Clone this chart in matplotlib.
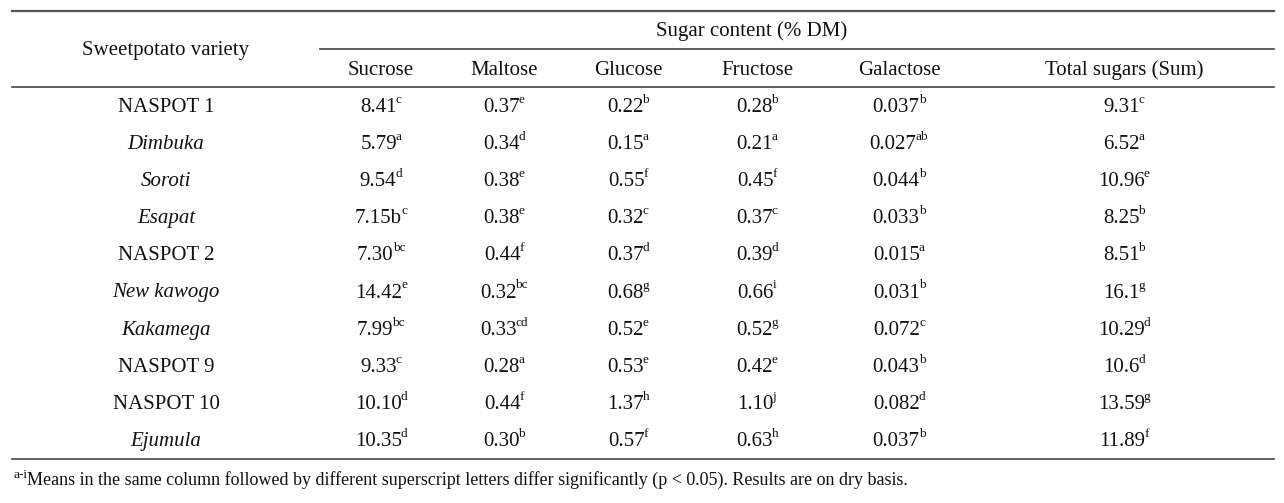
import matplotlib
matplotlib.use("Agg")
import matplotlib.pyplot as plt

plt.rcParams['font.family'] = ['Liberation Serif', 'DejaVu Serif']

# table content
varieties = ['NASPOT 1', 'Dimbuka', 'Soroti', 'Esapat', 'NASPOT 2',
             'New kawogo', 'Kakamega', 'NASPOT 9', 'NASPOT 10', 'Ejumula']
italic = [False, True, True, True, False, True, True, False, False, True]
columns = ['Sucrose', 'Maltose', 'Glucose', 'Fructose', 'Galactose', 'Total sugars (Sum)']

sucrose = ['8.41', '5.79', '9.54', '7.15b', '7.30', '14.42', '7.99', '9.33', '10.10', '10.35']
sucrose_sup = ['c', 'a', 'd', 'c', 'bc', 'e', 'bc', 'c', 'd', 'd']
maltose = ['0.37', '0.34', '0.38', '0.38', '0.44', '0.32', '0.33', '0.28', '0.44', '0.30']
maltose_sup = ['e', 'd', 'e', 'e', 'f', 'bc', 'cd', 'a', 'f', 'b']
glucose = ['0.22', '0.15', '0.55', '0.32', '0.37', '0.68', '0.52', '0.53', '1.37', '0.57']
glucose_sup = ['b', 'a', 'f', 'c', 'd', 'g', 'e', 'e', 'h', 'f']
fructose = ['0.28', '0.21', '0.45', '0.37', '0.39', '0.66', '0.52', '0.42', '1.10', '0.63']
fructose_sup = ['b', 'a', 'f', 'c', 'd', 'i', 'g', 'e', 'j', 'h']
galactose = ['0.037', '0.027', '0.044', '0.033', '0.015', '0.031', '0.072', '0.043', '0.082', '0.037']
galactose_sup = ['b', 'ab', 'b', 'b', 'a', 'b', 'c', 'b', 'd', 'b']
total = ['9.31', '6.52', '10.96', '8.25', '8.51', '16.1', '10.29', '10.6', '13.59', '11.89']
total_sup = ['c', 'a', 'e', 'b', 'b', 'g', 'd', 'd', 'g', 'f']

values = [sucrose, maltose, glucose, fructose, galactose, total]
sups = [sucrose_sup, maltose_sup, glucose_sup, fructose_sup, galactose_sup, total_sup]

footnote_sup = 'a-i'
footnote = ('Means in the same column followed by different superscript letters '
            'differ significantly (p < 0.05). Results are on dry basis.')

# layout (pixel coordinates)
W, H = 1284, 503
col_x = [381, 504, 628, 757, 899, 1124]
var_x = 166
row_y0, row_dy = 106, 37.1
fs = 15
sfs = 9.5
ink = '#111111'
rule = '#555555'

fig = plt.figure(figsize=(W / 100, H / 100), dpi=100)
ax = fig.add_axes([0, 0, 1, 1])
ax.set_xlim(0, W)
ax.set_ylim(H, 0)
ax.axis('off')
renderer = fig.canvas.get_renderer()


def width_of(s, size):
    t = ax.text(0, 0, s, fontsize=size)
    w = t.get_window_extent(renderer).width
    t.remove()
    return w


def sup_text(x, y, base, sup):
    wb = width_of(base, fs) - 1
    ws = width_of(sup, sfs)
    left = x - (wb + ws) / 2
    ax.text(left, y + 6, base, ha='left', va='baseline', fontsize=fs, color=ink)
    ax.text(left + wb, y - 3, sup, ha='left', va='baseline', fontsize=sfs, color=ink)


# rules
ax.plot([12, 1274], [11, 11], color=rule, lw=1.6)
ax.plot([320, 1274], [49, 49], color=rule, lw=1.3)
ax.plot([12, 1274], [87, 87], color=rule, lw=1.3)
ax.plot([12, 1274], [459, 459], color=rule, lw=1.3)

# headers
ax.text(var_x, 55, 'Sweetpotato variety', ha='center', va='baseline', fontsize=fs, color=ink)
ax.text(752, 36, 'Sugar content (% DM)', ha='center', va='baseline', fontsize=fs, color=ink)
for x, c in zip(col_x, columns):
    ax.text(x, 75, c, ha='center', va='baseline', fontsize=fs, color=ink)

# body
for i, name in enumerate(varieties):
    y = row_y0 + i * row_dy
    ax.text(var_x, y + 6, name, ha='center', va='baseline', fontsize=fs, color=ink,
            style='italic' if italic[i] else 'normal')
    for x, col, sup in zip(col_x, values, sups):
        sup_text(x, y, col[i], sup[i])

# footnote
ax.text(13, 478, footnote_sup, ha='left', va='baseline', fontsize=9.5, color=ink)
ax.text(13 + width_of(footnote_sup, 9.5), 485, footnote, ha='left', va='baseline',
        fontsize=13, color=ink)

fig.savefig('out.png', dpi=100, facecolor='white')
